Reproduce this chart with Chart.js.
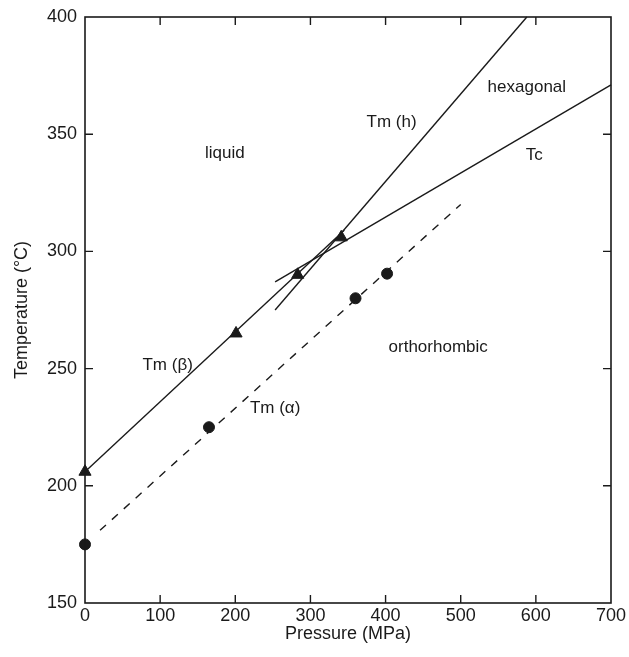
<!DOCTYPE html>
<html>
<head>
<meta charset="utf-8">
<script src="https://cdn.jsdelivr.net/npm/chart.js@4/dist/chart.umd.min.js"></script>
<style>
  html, body { margin: 0; padding: 0; background: #fff; }
  #wrap { width: 629px; height: 657px; }
</style>
</head>
<body>
<div id="wrap"><canvas id="c" width="629" height="657"></canvas></div>
<script>
// ---- data ----
const xTicks = [0, 100, 200, 300, 400, 500, 600, 700];
const yTicks = [150, 200, 250, 300, 350, 400];

// solid phase-boundary lines (endpoints)
const tmBetaX = [0, 345];
const tmBetaY = [206, 309];
const tmHexX = [253, 588];
const tmHexY = [275, 400];
const tcX = [253, 700];
const tcY = [287, 371];
// dashed Tm(alpha) line
const tmAlphaX = [20, 500];
const tmAlphaY = [181, 320];

// measured points
const triX = [0, 201, 283, 341];
const triY = [206, 265, 290, 306];
const dotX = [0, 165, 360, 402];
const dotY = [175, 225, 280, 290.5];

// region / curve labels
const labelText = ['liquid', 'Tm (h)', 'hexagonal', 'Tc', 'Tm (\u03B2)', 'Tm (\u03B1)', 'orthorhombic'];
const labelX = [186, 408, 588, 598, 110, 253, 470];
const labelY = [342, 355, 370, 341, 251.5, 233, 259];

const pts = (xs, ys) => xs.map((x, i) => ({ x: x, y: ys[i] }));
const INK = '#1a1a1a';
const FONT = "'Liberation Sans', Arial, Helvetica, sans-serif";

const framePlugin = {
  id: 'frame',
  afterDatasetsDraw(chart) {
    const { ctx, chartArea: a, scales } = chart;
    const xs = scales.x, ys = scales.y;
    ctx.save();
    ctx.strokeStyle = INK;
    ctx.lineWidth = 1.6;
    ctx.strokeRect(a.left, a.top, a.right - a.left, a.bottom - a.top);
    const L = 8;
    ctx.lineWidth = 1.4;
    ctx.beginPath();
    xTicks.slice(1, -1).forEach(v => {
      const px = xs.getPixelForValue(v);
      ctx.moveTo(px, a.bottom); ctx.lineTo(px, a.bottom - L);
      ctx.moveTo(px, a.top); ctx.lineTo(px, a.top + L);
    });
    yTicks.slice(1, -1).forEach(v => {
      const py = ys.getPixelForValue(v);
      ctx.moveTo(a.left, py); ctx.lineTo(a.left + L, py);
      ctx.moveTo(a.right, py); ctx.lineTo(a.right - L, py);
    });
    ctx.stroke();
    // labels
    ctx.fillStyle = INK;
    ctx.font = '17px ' + FONT;
    ctx.textAlign = 'center';
    ctx.textBaseline = 'middle';
    labelText.forEach((t, i) => {
      ctx.fillText(t, xs.getPixelForValue(labelX[i]), ys.getPixelForValue(labelY[i]));
    });
    ctx.restore();
  }
};

const lineDs = (xs, ys, dash) => ({
  data: pts(xs, ys),
  showLine: true,
  borderColor: INK,
  borderWidth: 1.4,
  borderDash: dash || [],
  pointRadius: 0,
  pointHoverRadius: 0,
  fill: false,
  clip: false
});

new Chart(document.getElementById('c'), {
  type: 'scatter',
  data: {
    datasets: [
      lineDs(tmBetaX, tmBetaY),
      lineDs(tmHexX, tmHexY),
      lineDs(tcX, tcY),
      lineDs(tmAlphaX, tmAlphaY, [8, 8]),
      {
        data: pts(triX, triY),
        pointStyle: 'triangle',
        pointRadius: 7,
        backgroundColor: INK,
        borderColor: INK,
        borderWidth: 1,
        clip: false
      },
      {
        data: pts(dotX, dotY),
        pointStyle: 'circle',
        pointRadius: 5.5,
        backgroundColor: INK,
        borderColor: INK,
        borderWidth: 1,
        clip: false
      }
    ]
  },
  options: {
    responsive: false,
    animation: false,
    devicePixelRatio: 1,
    layout: { padding: { top: 6, right: 18, left: 0, bottom: 0 } },
    plugins: { legend: { display: false }, tooltip: { enabled: false } },
    scales: {
      x: {
        type: 'linear', min: 0, max: 700,
        afterBuildTicks: s => { s.ticks = xTicks.map(v => ({ value: v })); },
        afterFit: s => { s.height = 54; },
        grid: { display: false, drawTicks: false, tickLength: 0 },
        border: { display: false },
        ticks: { color: INK, font: { family: FONT, size: 18 }, padding: 2, maxRotation: 0 },
        title: { display: true, text: 'Pressure (MPa)', color: INK, font: { family: FONT, size: 18 }, padding: { top: 0, bottom: 12 } }
      },
      y: {
        type: 'linear', min: 150, max: 400,
        afterBuildTicks: s => { s.ticks = yTicks.map(v => ({ value: v })); },
        afterFit: s => { s.width = 85; },
        grid: { display: false, drawTicks: false, tickLength: 0 },
        border: { display: false },
        ticks: { color: INK, font: { family: FONT, size: 18, lineHeight: 1 }, padding: 8 },
        title: { display: true, text: 'Temperature (\u00B0C)', color: INK, font: { family: FONT, size: 18 }, padding: { top: 11, bottom: 0 } }
      }
    }
  },
  plugins: [framePlugin]
});
</script>
</body>
</html>
